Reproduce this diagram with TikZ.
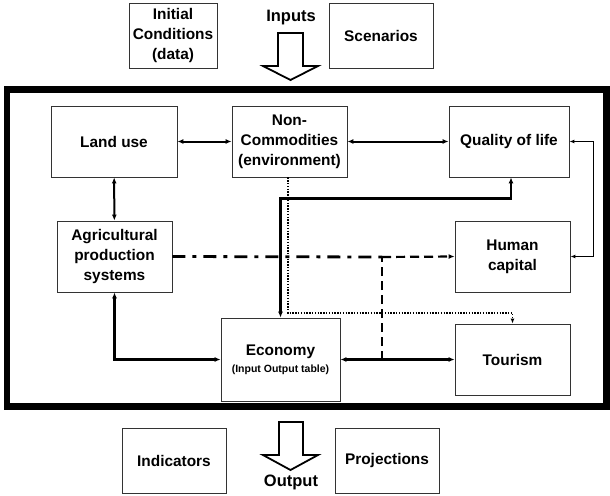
\documentclass[tikz,border=0pt]{standalone}
\usepackage{fontspec}
\setmainfont{Liberation Sans}
\usetikzlibrary{arrows.meta,calc}

\begin{document}
\begin{tikzpicture}[x=1pt, y=-1pt,
  blk/.style={draw=black!80, line width=0.8pt, align=center, inner sep=0pt,
    font=\fontsize{15.4}{20}\selectfont\bfseries},
  lnk/.style={{Latex[length=6pt,width=5pt]}-{Latex[length=6pt,width=5pt]}},
  hollow/.style={draw, line width=1.8pt, fill=white, line join=miter}]
\useasboundingbox (0,0) rectangle (610,495);

% inputs
\node[blk, minimum width=88, minimum height=65] (init) at (173,35.5) {Initial\\Conditions\\(data)};
\node[blk, minimum width=104, minimum height=65] (scen) at (381,35.5) {Scenarios};
\node[font=\fontsize{16.5}{18}\selectfont\bfseries] (inputs) at (291,18) {Inputs};
\draw[hollow] (278,33) -- (303,33) -- (303,66) -- (318,66) -- (290.5,80)
  -- (263,66) -- (278,66) -- cycle;

% model frame
\draw[line width=6.5pt] (7,89.5) rectangle (606.5,406.5);

\node[blk, minimum width=126, minimum height=71] (land) at (114,141.5) {Land use};
\node[blk, minimum width=115, minimum height=71] (noncom) at (289.5,141.5) {Non-\\Commodities\\(environment)};
\node[blk, minimum width=120, minimum height=71] (qol) at (509,141.5) {Quality of life};
\node[blk, minimum width=115, minimum height=71] (agri) at (114.5,256.5) {Agricultural\\production\\systems};
\node[blk, minimum width=115, minimum height=71] (human) at (512.5,256.5) {Human\\capital};
\node[blk, minimum width=119, minimum height=83] (econ) at (280.5,359.5)
  {Economy\\[-3pt]{\fontsize{10.5}{12}\selectfont (Input Output table)}};
\node[blk, minimum width=115, minimum height=71] (tour) at (512.5,359.5) {Tourism};

\coordinate (jn) at (382,257);
\coordinate (jn2) at (382,360);

% links
\draw[lnk, line width=2pt] (land) -- (noncom);
\draw[lnk, line width=2pt] (noncom) -- (qol);
\draw[lnk, line width=2pt] (land) -- (agri);
\draw[lnk, line width=2.6pt] (agri.south) |- (econ.west);
\draw[lnk, line width=2.2pt] (econ) -- (tour);
\draw[lnk, line width=2.6pt] (econ.north) -- ++(0,-119) -| ([xshift=2pt]qol.south);
\draw[{Latex[length=5pt,width=4pt]}-{Latex[length=5pt,width=4pt]}, line width=1.3pt]
  (qol.east) -- ++(24,0) |- (human.east);
\draw[line width=1.3pt, dash pattern=on 1.3pt off 1.5pt, -{Latex[length=5pt,width=4pt]}]
  ([xshift=-1.5pt]noncom.south) |- ($(jn)+(0,56)$) -| (tour.north);
\draw[line width=2.8pt, dash pattern=on 13pt off 7pt on 4pt off 7pt] (agri.east) -- (jn);
\draw[line width=2.2pt, dash pattern=on 9pt off 5pt, -{Latex[length=6pt,width=5pt]}] (jn) -- (human.west);
\draw[line width=2.2pt, dash pattern=on 9pt off 5pt] (jn2) -- (jn);

% outputs
\node[blk, minimum width=104, minimum height=65] (ind) at (174,460.5) {Indicators};
\node[blk, minimum width=104, minimum height=65] (proj) at (387,460.5) {Projections};
\node[font=\fontsize{16.5}{18}\selectfont\bfseries] (output) at (291,482) {Output};
\draw[hollow] (279,422) -- (303,422) -- (303,455) -- (318,455) -- (290.5,470)
  -- (263,455) -- (279,455) -- cycle;
\end{tikzpicture}
\end{document}
